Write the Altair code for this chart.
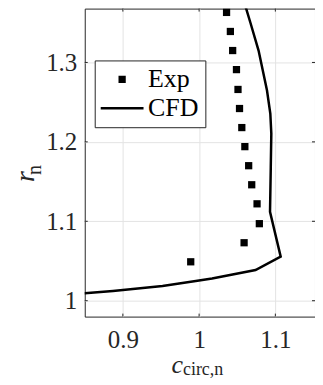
import altair as alt
import pandas as pd

# ---- data ----
exp_x = [1.036, 1.041, 1.044, 1.049, 1.051, 1.053, 1.056, 1.060, 1.065, 1.069, 1.076, 1.079, 1.059, 0.989]
exp_y = [1.363, 1.339, 1.315, 1.291, 1.266, 1.242, 1.218, 1.194, 1.170, 1.146, 1.122, 1.097, 1.073, 1.049]

cfd_x = [1.0563, 1.0673, 1.078, 1.089, 1.0934, 1.0947, 1.094, 1.093, 1.107, 1.074, 1.017, 0.9956, 0.952, 0.887, 0.85, 0.82]
cfd_y = [1.385, 1.350, 1.315, 1.265, 1.2355, 1.2104, 1.1685, 1.112, 1.0554, 1.0387, 1.028, 1.0249, 1.0186, 1.0123, 1.0094, 1.0075]

x_ticks = [0.9, 1.0, 1.1]
y_ticks = [1.0, 1.1, 1.2, 1.3]
series_names = ["Exp", "CFD"]

W, H = 231, 309
FONT = "Liberation Serif"
FRAME = "#262626"
GRID = "#e3e3e3"
LINE_PATH = "M-5.9,-0.34H5.9V0.34H-5.9Z"

exp_df = pd.DataFrame({"x": exp_x, "y": exp_y, "series": ["Exp"] * len(exp_x)})
cfd_df = pd.DataFrame({"x": cfd_x, "y": cfd_y, "i": list(range(len(cfd_x)))})
xt_df = pd.DataFrame({"x": x_ticks})
yt_df = pd.DataFrame({"y": y_ticks})

xs = alt.Scale(domain=[0.85, 1.152], nice=False, zero=False)
ys = alt.Scale(domain=[0.98, 1.3678], nice=False, zero=False)

xaxis = alt.Axis(values=x_ticks, title=None, grid=True, gridColor=GRID, gridWidth=1,
                 ticks=False, domain=False, format="~g", labelFont=FONT, labelFontSize=25,
                 labelColor=FRAME, labelPadding=31, labelBaseline="alphabetic", labelFlush=False)
yaxis = alt.Axis(values=y_ticks, title=None, grid=True, gridColor=GRID, gridWidth=1,
                 ticks=False, domain=False, format="~g", labelFont=FONT, labelFontSize=25,
                 labelColor=FRAME, labelPadding=8, labelBaseline="middle", labelFlush=False)

X = alt.X("x:Q", scale=xs, axis=xaxis)
Y = alt.Y("y:Q", scale=ys, axis=yaxis)

points = alt.Chart(exp_df).mark_point(filled=True, color="black", size=53, opacity=1).encode(
    x=X, y=Y,
    shape=alt.Shape("series:N",
                    scale=alt.Scale(domain=series_names, range=["square", LINE_PATH]),
                    legend=alt.Legend(title=None, orient="none", legendX=10, legendY=52,
                                      fillColor="white", strokeColor=FRAME, padding=6,
                                      rowPadding=3, labelFont=FONT, labelFontSize=26,
                                      labelColor="black", symbolSize=53, symbolOffset=8.5,
                                      labelOffset=13, symbolFillColor="black",
                                      symbolStrokeWidth=0, labelLimit=200)),
)

line = alt.Chart(cfd_df).mark_line(color="black", strokeWidth=2.5, clip=True).encode(
    x=X, y=Y, order="i:Q",
)

tick_y_left = alt.Chart(yt_df).mark_rule(color=FRAME, strokeWidth=1).encode(
    y=Y, x=alt.value(0), x2=alt.value(3))
tick_y_right = alt.Chart(yt_df).mark_rule(color=FRAME, strokeWidth=1).encode(
    y=Y, x=alt.value(W - 3), x2=alt.value(W))
tick_x_bottom = alt.Chart(xt_df).mark_rule(color=FRAME, strokeWidth=1).encode(
    x=X, y=alt.value(H - 3), y2=alt.value(H))
tick_x_top = alt.Chart(xt_df).mark_rule(color=FRAME, strokeWidth=1).encode(
    x=X, y=alt.value(0), y2=alt.value(3))

def label(txt, x, y, size, italic=False, angle=0):
    kw = dict(font=FONT, fontSize=size, align="left", baseline="alphabetic", color=FRAME)
    if italic:
        kw["fontStyle"] = "italic"
    if angle:
        kw["angle"] = angle
    return alt.Chart(pd.DataFrame({"t": [txt]})).mark_text(**kw).encode(
        text="t:N", x=alt.value(x), y=alt.value(y))

xt_main = label("c", 87, 365.5, 26, italic=True)
xt_sub = label("circ,n", 98.5, 367.7, 18)
yt_main = label("r", -51, 174, 28, italic=True, angle=270)
yt_sub = label("n", -44, 167, 20, angle=270)

chart = alt.layer(
    points, line, tick_y_left, tick_y_right, tick_x_bottom, tick_x_top,
    xt_main, xt_sub, yt_main, yt_sub,
).properties(
    width=W, height=H,
    autosize=alt.AutoSizeParams(type="none"),
    padding={"left": 77, "top": 0, "right": 0, "bottom": 63},
).configure_view(
    stroke=FRAME, strokeWidth=1
).configure_axis(
    labelFont=FONT, labelFontSize=25
).configure_legend(
    labelFont=FONT
)

chart.save("out.html", embed_options={"renderer": "svg", "actions": False})
